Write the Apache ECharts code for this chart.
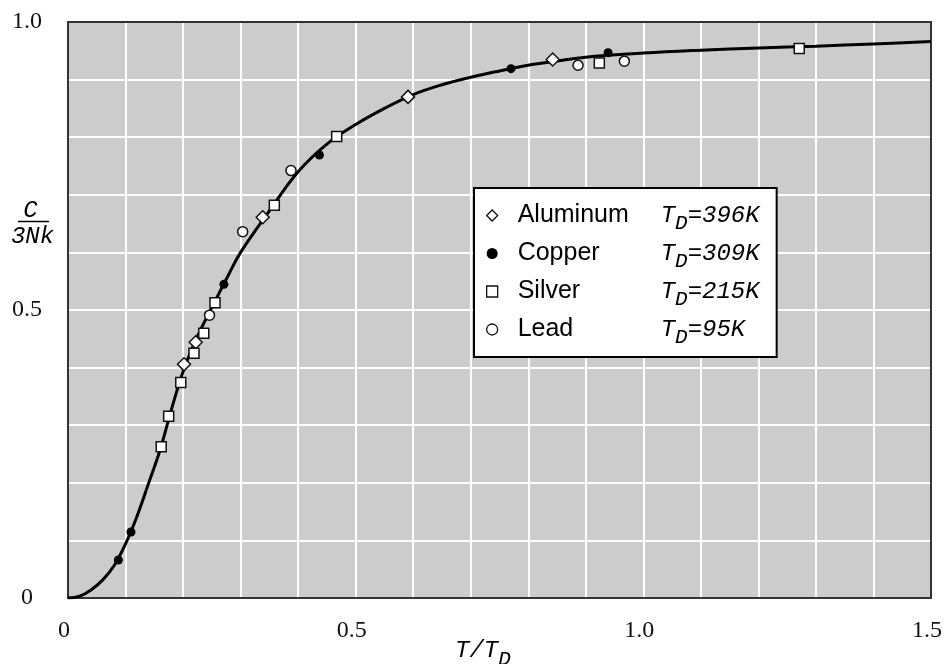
<!DOCTYPE html>
<html><head><meta charset="utf-8">
<script src="https://cdn.jsdelivr.net/npm/echarts@6/dist/echarts.min.js"></script>
<style>html,body{margin:0;padding:0;background:#fff}#c{width:944px;height:664px}</style>
</head><body><div id="c"></div>
<script>
// Debye curve
const curveT = [0, 0.02, 0.04, 0.06, 0.08, 0.10, 0.12, 0.14, 0.16, 0.18, 0.20, 0.22, 0.24, 0.26, 0.28, 0.30, 0.35, 0.40, 0.45, 0.50, 0.55, 0.60, 0.65, 0.70, 0.75, 0.80, 0.90, 1.00, 1.10, 1.20, 1.30, 1.40, 1.50];
const curveC = [0, 0.003, 0.014, 0.031, 0.056, 0.094, 0.142, 0.199, 0.257, 0.328, 0.393, 0.443, 0.485, 0.524, 0.563, 0.600, 0.672, 0.740, 0.788, 0.822, 0.850, 0.874, 0.891, 0.904, 0.915, 0.925, 0.939, 0.946, 0.951, 0.955, 0.958, 0.962, 0.966];

const aluminumT = [0.2016, 0.222, 0.3384, 0.591, 0.8425];
const aluminumC = [0.4057, 0.444, 0.661, 0.870, 0.935];
const copperT = [0.0875, 0.1095, 0.271, 0.437, 0.770, 0.9387];
const copperC = [0.066, 0.1146, 0.5446, 0.769, 0.919, 0.9467];
const silverT = [0.162, 0.175, 0.196, 0.219, 0.236, 0.2555, 0.3586, 0.467, 0.9235, 1.271];
const silverC = [0.2627, 0.3155, 0.374, 0.4248, 0.4595, 0.5127, 0.682, 0.801, 0.929, 0.954];
const leadT = [0.246, 0.3036, 0.3876, 0.8865, 0.967];
const leadC = [0.491, 0.636, 0.742, 0.925, 0.932];

const seriesNames = ['Aluminum', 'Copper', 'Silver', 'Lead'];
const debyeTemps = [396, 309, 215, 95];
const xTickLabels = {'0': '0', '0.5': '0.5', '1': '1.0', '1.5': '1.5'};
const yTickLabels = {'0': '0', '0.5': '0.5', '1': '1.0'};

const zip = (a, b) => a.map((v, i) => [v, b[i]]);
const key = v => String(Math.round(v * 10) / 10);

const chart = echarts.init(document.getElementById('c'), null, {renderer: 'canvas'});
const serif = 'Liberation Serif';
const mono = 'Liberation Mono';

const openMarker = {color: '#ffffff', borderColor: '#111111', borderWidth: 1.5, opacity: 1};

chart.setOption({
  animation: false,
  backgroundColor: '#ffffff',
  grid: {left: 68, right: 13, top: 22, bottom: 66, show: true, backgroundColor: '#cccccc', borderWidth: 0, outerBoundsMode: 'none', containLabel: false},
  xAxis: [{
    type: 'value', min: 0, max: 1.5, interval: 0.1,
    axisLine: {show: true, onZero: false, lineStyle: {color: '#333', width: 2}},
    axisTick: {show: false},
    splitLine: {show: true, showMinLine: false, showMaxLine: false, lineStyle: {color: '#ffffff', width: 2}},
    axisLabel: {
      show: true, margin: 21, fontFamily: serif, fontSize: 24, color: '#111', padding: [0, 8, 0, 0],
      formatter: v => xTickLabels[key(v)] || '', hideOverlap: false
    }
  }, {
    type: 'value', min: 0, max: 1.5, position: 'top',
    axisLine: {show: true, onZero: false, lineStyle: {color: '#333', width: 2}},
    axisTick: {show: false}, axisLabel: {show: false}, splitLine: {show: false}
  }],
  yAxis: [{
    type: 'value', min: 0, max: 1.0, interval: 0.1,
    axisLine: {show: true, onZero: false, lineStyle: {color: '#333', width: 2}},
    axisTick: {show: false},
    splitLine: {show: true, showMinLine: false, showMaxLine: false, lineStyle: {color: '#ffffff', width: 2}},
    axisLabel: {
      show: true, margin: 41, align: 'center', fontFamily: serif, fontSize: 24, color: '#111',
      formatter: v => yTickLabels[key(v)] || ''
    }
  }, {
    type: 'value', min: 0, max: 1.0, position: 'right',
    axisLine: {show: true, onZero: false, lineStyle: {color: '#333', width: 2}},
    axisTick: {show: false}, axisLabel: {show: false}, splitLine: {show: false}
  }],
  legend: {
    show: true, orient: 'vertical', left: 474, top: 188,
    padding: [9, 17, 9, 12],
    backgroundColor: '#ffffff', borderColor: '#000', borderWidth: 2, borderRadius: 0,
    itemWidth: 11, itemHeight: 11, itemGap: 1,
    selectedMode: false,
    data: [
      {name: seriesNames[0], icon: 'diamond', itemStyle: {borderWidth: 1.3}},
      {name: seriesNames[1], icon: 'circle'},
      {name: seriesNames[2], icon: 'rect', itemStyle: {borderWidth: 1.3}},
      {name: seriesNames[3], icon: 'circle', itemStyle: {borderWidth: 1.3}}
    ],
    formatter: name => {
      const i = seriesNames.indexOf(name);
      return '{n|' + name + '}{t|T}{d|D}{t|=' + debyeTemps[i] + 'K}';
    },
    textStyle: {
      color: '#000',
      rich: {
        n: {fontFamily: 'Liberation Sans', fontSize: 25, color: '#000', width: 143, padding: [0, 0, 0, 15], lineHeight: 28},
        t: {fontFamily: mono, fontStyle: 'italic', fontSize: 24, color: '#000', lineHeight: 28},
        d: {fontFamily: mono, fontStyle: 'italic', fontSize: 21, color: '#000', lineHeight: 28, padding: [16, 0, 0, 0]}
      }
    }
  },
  graphic: [
    {type: 'text', x: 30.5, y: 211, silent: true,
     style: {text: 'C', font: 'italic 24px "Liberation Mono"', fill: '#000', align: 'center', verticalAlign: 'middle'}},
    {type: 'line', silent: true, shape: {x1: 18, y1: 221.5, x2: 49, y2: 221.5}, style: {stroke: '#000', lineWidth: 1.5}},
    {type: 'text', x: 32.5, y: 237, silent: true,
     style: {text: '3Nk', font: 'italic 24px "Liberation Mono"', fill: '#000', align: 'center', verticalAlign: 'middle'}},
    {type: 'text', x: 455, y: 651, silent: true,
     style: {
       text: '{t|T/T}{d|D}', align: 'left', verticalAlign: 'middle',
       rich: {
         t: {fontFamily: mono, fontStyle: 'italic', fontSize: 24, fill: '#000', lineHeight: 28},
         d: {fontFamily: mono, fontStyle: 'italic', fontSize: 21, fill: '#000', lineHeight: 28, padding: [16, 0, 0, 0]}
       }
     }}
  ],
  series: [
    {
      name: 'Debye', type: 'line', data: zip(curveT, curveC), showSymbol: false, symbol: 'none',
      smooth: 0.4, silent: true, z: 2,
      lineStyle: {color: '#000', width: 3, opacity: 1}
    },
    {name: seriesNames[0], type: 'scatter', symbol: 'diamond', symbolSize: 13, data: zip(aluminumT, aluminumC), itemStyle: openMarker, z: 4, silent: true},
    {name: seriesNames[1], type: 'scatter', symbol: 'circle', symbolSize: 9, data: zip(copperT, copperC), itemStyle: {color: '#000', borderColor: '#000', borderWidth: 0, opacity: 1}, z: 4, silent: true},
    {name: seriesNames[2], type: 'scatter', symbol: 'rect', symbolSize: 10, data: zip(silverT, silverC), itemStyle: openMarker, z: 4, silent: true},
    {name: seriesNames[3], type: 'scatter', symbol: 'circle', symbolSize: 10, data: zip(leadT, leadC), itemStyle: openMarker, z: 4, silent: true}
  ]
});
</script>
</body></html>
